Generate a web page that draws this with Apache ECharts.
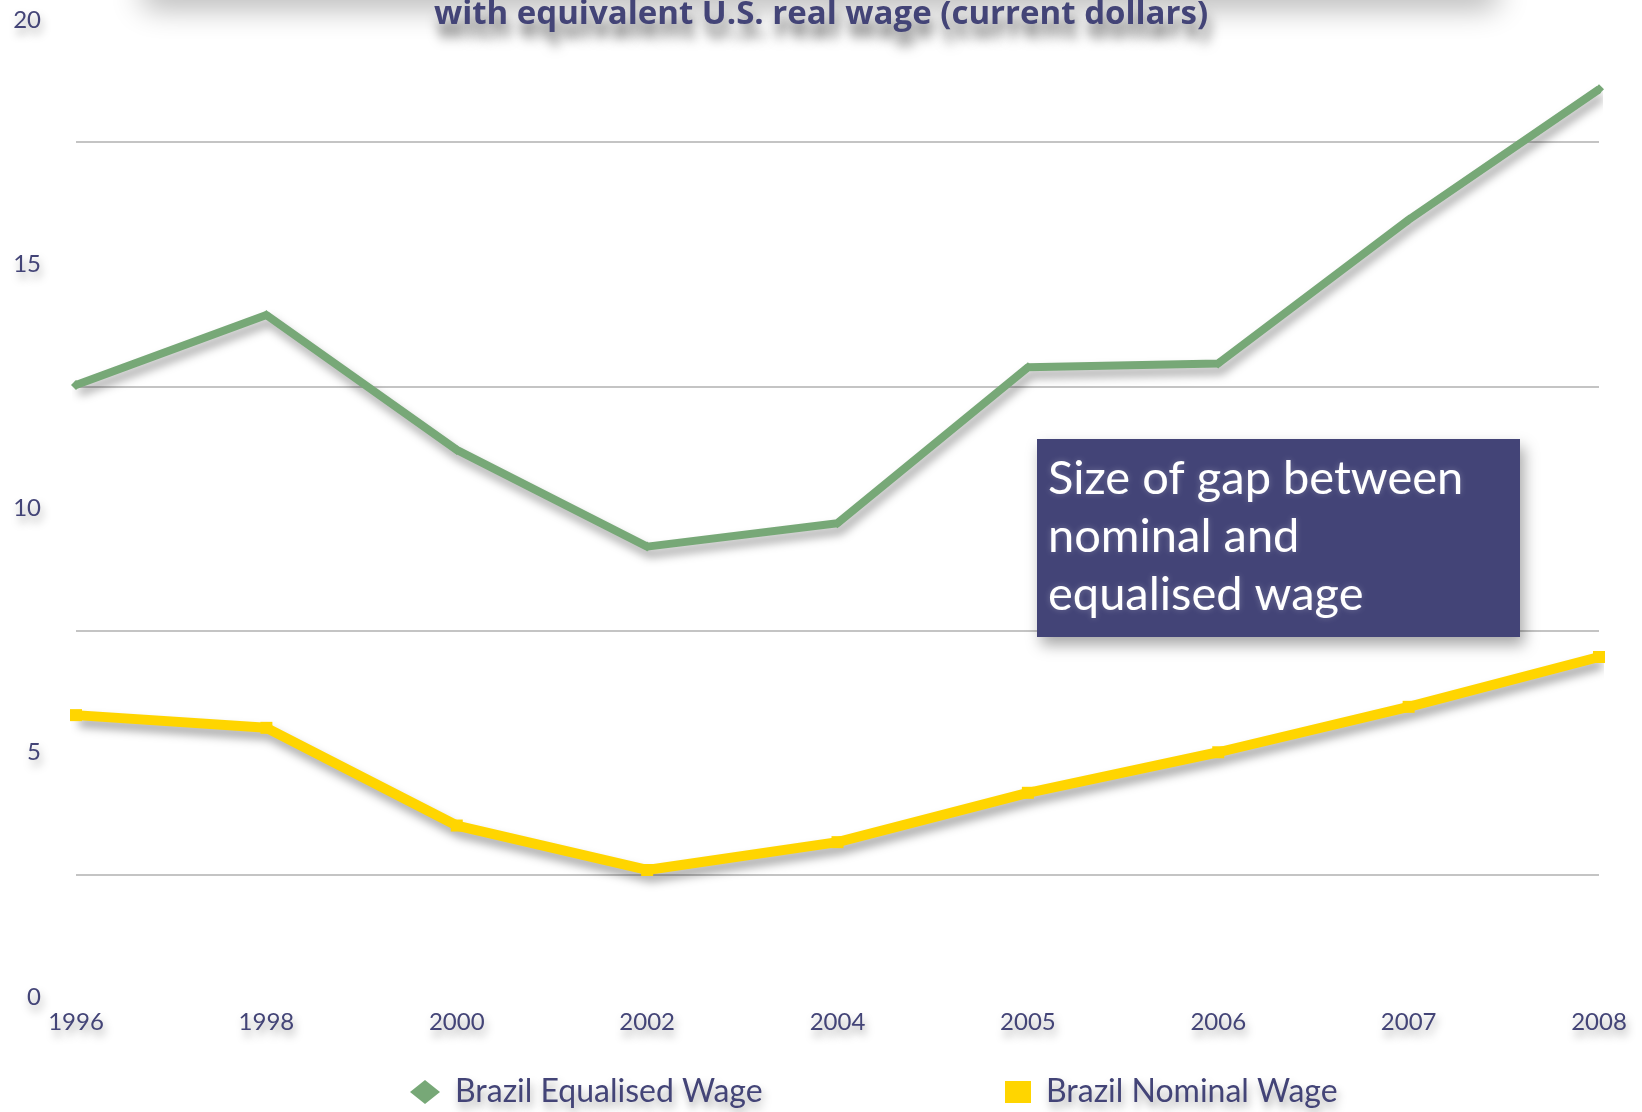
<!DOCTYPE html>
<html>
<head>
<meta charset="utf-8">
<script src="https://cdn.jsdelivr.net/npm/echarts@6/dist/echarts.min.js"></script>
<style>
html,body{margin:0;padding:0;background:#fff;}
#chart{width:1642px;height:1112px;}
</style>
</head>
<body>
<div id="chart"></div>
<script>
var years = ['1996','1998','2000','2002','2004','2005','2006','2007','2008'];
var equalisedWage = [12.53, 13.96, 11.2, 9.22, 9.7, 12.89, 12.97, 15.91, 18.58];
var nominalWage = [5.77, 5.51, 3.51, 2.6, 3.17, 4.18, 5.01, 5.94, 6.96];
var yTicks = [0, 5, 10, 15, 20];
var titleText = 'with equivalent U.S. real wage (current dollars)';
var noteText = 'Size of gap between\nnominal and\nequalised wage';

var textColor = '#434477';
var font = 'Lato';
var shadow = {textShadowColor:'rgba(0,0,0,0.35)', textShadowBlur:8, textShadowOffsetX:2, textShadowOffsetY:6};

var chart = echarts.init(document.getElementById('chart'));
chart.setOption({
  backgroundColor:'#ffffff',
  animation:false,
  title:{
    text:titleText, left:'center', top:-7,
    textStyle:{color:textColor, fontFamily:'Open Sans', fontWeight:'bold', fontSize:33,
      textShadowColor:'rgba(0,0,0,0.55)', textShadowBlur:12, textShadowOffsetX:3, textShadowOffsetY:14}
  },
  grid:{left:76, right:43, top:20, bottom:115, containLabel:false},
  xAxis:{
    type:'category', data:years, boundaryGap:false,
    axisLine:{show:false}, axisTick:{show:false},
    axisLabel:Object.assign({color:textColor, fontFamily:font, fontSize:24, margin:13}, shadow)
  },
  yAxis:{
    type:'value', min:0, max:20, interval:2.5,
    axisLine:{show:false}, axisTick:{show:false},
    axisLabel:Object.assign({color:textColor, fontFamily:font, fontSize:24, margin:35,
      formatter:function(v){ return yTicks.indexOf(v) >= 0 ? String(v) : ''; }}, shadow),
    splitLine:{show:true, lineStyle:{color:['rgba(0,0,0,0)','#c4c4c4'], width:2}}
  },
  legend:[
    {data:[{name:'Brazil Equalised Wage', icon:'diamond'}], left:405, top:1071, itemWidth:30, itemHeight:24, itemGap:10,
     textStyle:Object.assign({color:textColor, fontFamily:font, fontSize:32, padding:[0,0,0,10]}, shadow)},
    {data:[{name:'Brazil Nominal Wage', icon:'rect'}], left:1000, top:1071, itemWidth:26, itemHeight:22, itemGap:10,
     textStyle:Object.assign({color:textColor, fontFamily:font, fontSize:32, padding:[0,0,0,10]}, shadow)}
  ],
  graphic:[
    {type:'rect', shape:{x:140, y:-46, width:1360, height:30, r:15},
     style:{fill:'#ffffff', shadowColor:'rgba(0,0,0,0.3)', shadowBlur:30, shadowOffsetY:24}, silent:true, z:0},
    {type:'rect', shape:{x:1037, y:439, width:483, height:198},
     style:{fill:'#434477', shadowColor:'rgba(0,0,0,0.35)', shadowBlur:14, shadowOffsetX:4, shadowOffsetY:8}, z:100},
    {type:'text', left:1048, top:450, z:101,
     style:{text:noteText, fill:'#ffffff', fontSize:47, fontFamily:font, lineHeight:58,
            textShadowColor:'rgba(255,255,255,0.25)', textShadowBlur:6}}
  ],
  series:[
    {name:'Brazil Equalised Wage', type:'line', data:equalisedWage,
     symbol:'diamond', symbolSize:10, showSymbol:true,
     itemStyle:{color:'#77a877'},
     lineStyle:{color:'#77a877', width:8, shadowColor:'rgba(0,0,0,0.35)', shadowBlur:10, shadowOffsetX:3, shadowOffsetY:7}},
    {name:'Brazil Nominal Wage', type:'line', data:nominalWage,
     symbol:'rect', symbolSize:12, showSymbol:true,
     itemStyle:{color:'#ffd500'},
     lineStyle:{color:'#ffd500', width:10, shadowColor:'rgba(0,0,0,0.35)', shadowBlur:10, shadowOffsetX:3, shadowOffsetY:7}}
  ]
});
</script>
</body>
</html>
